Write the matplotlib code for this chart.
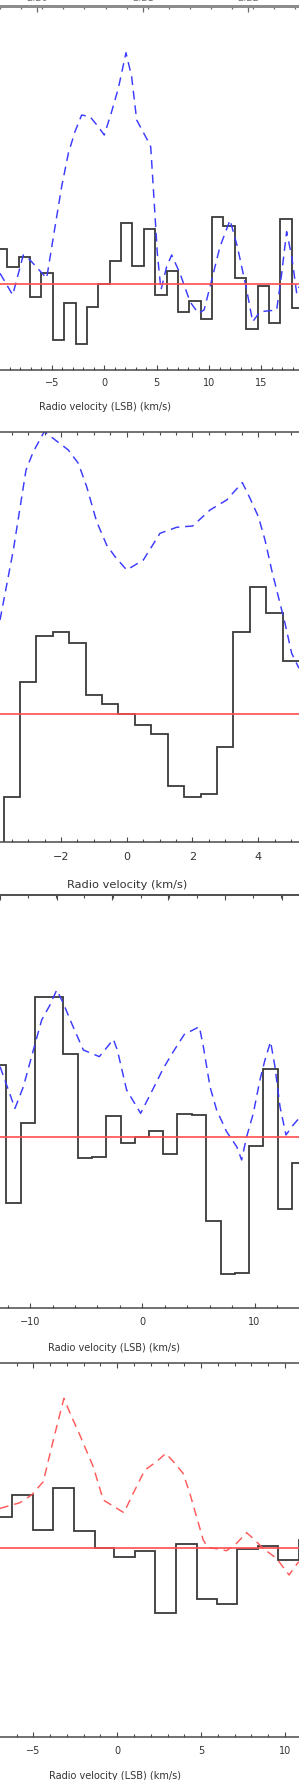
import matplotlib
matplotlib.use("Agg")
import matplotlib.pyplot as plt
from matplotlib.ticker import MultipleLocator, FixedLocator, NullFormatter

plt.rcParams['font.family'] = ['DejaVu Sans']

# ---------------- Panel 1 data ----------------
p1_edges = [-10.34, -9.25, -8.17, -7.08, -6.00, -4.91, -3.83, -2.74, -1.66, -0.57,
            0.52, 1.60, 2.69, 3.77, 4.86, 5.94, 7.03, 8.11, 9.20, 10.28, 11.37,
            12.45, 13.54, 14.62, 15.71, 16.79, 17.88, 18.96]
p1_hist = [34.7, 17.3, 27.3, -12.7, 11.3, -56, -18.7, -60, -23.3, 0, 23.3, 60.7,
           18, 55.3, -11, 13, -28.3, -16.7, -35.3, 67.3, 58, 5.7, -45, -2, -39.3,
           65, -24.3]
p1_line_v = [-9.95, -8.74, -7.73, -7.15, -6.07, -5.50, -4.70, -4.07, -3.43, -2.80,
             -2.16, -1.36, -0.63, 0.0, 0.70, 1.34, 2.07, 2.61, 3.09, 4.20, 4.43,
             4.75, 5.06, 5.41, 5.95, 6.43, 7.22, 8.18, 8.97, 9.52, 10.09, 11.04,
             12.0, 12.70, 13.59, 14.16, 14.86, 16.45, 16.93, 17.40, 17.88, 18.36, 18.58]
p1_line_y = [10.7, -11, 29, 24.7, 12.3, 5.7, 57.3, 97.3, 130.7, 152.3, 169, 167.3,
             158, 149, 172.3, 195.7, 231.3, 207.3, 164, 142.3, 137.3, 84, 30.7, -6,
             17.3, 29, 10.7, -17.7, -29.3, -26, -2.7, 37.3, 64, 37.3, -6, -37.7,
             -27.7, -26, 10.7, 52.3, 27.7, -9.3, -2.7]
p1_ticks = [-10, -5, 0, 5, 10, 15]
p1_top_major = [36.7, 142.7, 247.7]
p1_top_labels = ["2.20", "2.21", "2.22"]

# ---------------- Panel 2 data ----------------
p2_edges = [-4.25, -3.75, -3.25, -2.75, -2.25, -1.75, -1.25, -0.75, -0.25, 0.25,
            0.75, 1.25, 1.75, 2.25, 2.75, 3.25, 3.75, 4.25, 4.75, 5.25]
p2_hist = [-160, -82.3, 32, 78.3, 82.3, 71, 19.3, 10, 0, -10.7, -20, -71.7, -82.3,
           -79.7, -33, 82.3, 127.7, 101.7, 53]
p2_line_v = [-3.857, -3.451, -3.065, -2.842, -2.508, -1.777, -1.473, -1.219, -0.915,
             -0.61, -0.357, 0.0, 0.506, 1.013, 1.521, 2.008, 2.536, 3.043, 3.520,
             3.753, 4.007, 4.21, 4.413, 4.616, 4.819, 5.022, 5.245]
p2_line_y = [94.3, 164.3, 244.3, 262.7, 282.7, 264.3, 251, 227.7, 192.7, 169.3, 157.7,
             144.3, 154.3, 181, 187, 188.3, 204.3, 214.3, 231.7, 216, 197.7, 174.3,
             144.3, 117.7, 91, 61, 46]
p2_ticks = [-4, -2, 0, 2, 4]

# ---------------- Panel 3 data ----------------
p3_edges = [-13.42, -12.15, -10.81, -9.56, -8.29, -7.04, -5.76, -4.51, -3.24, -1.93,
            -0.65, 0.62, 1.87, 3.12, 4.40, 5.67, 6.98, 8.26, 9.47, 10.78, 12.06,
            13.37, 14.64]
p3_hist = [71.7, -66, 14, 139.3, 139.3, 82.7, -21, -20, 20.7, -6, 0, 6, -17.7, 22.3,
           21.7, -84, -137.7, -136.7, -9.3, 67.3, -72.3, -26]
p3_line_v = [-12.68, -11.35, -10.60, -9.71, -8.97, -8.23, -7.63, -7.04, -6.30, -5.26,
             -3.83, -2.58, -2.23, -1.40, -0.15, 0.98, 1.87, 2.76, 3.80, 4.40, 5.08,
             5.44, 6.03, 6.62, 7.51, 8.41, 8.85, 9.30, 9.89, 10.48, 10.93, 11.43,
             11.82, 12.27, 12.80, 13.45, 13.96]
p3_line_y = [70, 28.3, 50, 86.7, 116.7, 131.7, 146.7, 133.3, 113.3, 86.7, 80, 97.3,
             86.7, 46.7, 23.3, 48.3, 68.3, 85, 103.3, 106, 110, 90, 50, 26.7, 5, -10,
             -23.3, 0, 23.3, 56.7, 76.7, 95, 70, 30, 1.7, 11.7, 18.3]
p3_ticks = [-10, 0, 10]
p3_top_major = [0.4, 56.7, 111.7, 168.3, 225.0, 281.7]

# ---------------- Panel 4 data ----------------
p4_edges = [-7.48, -6.26, -5.05, -3.82, -2.58, -1.33, -0.20, 1.05, 2.25, 3.50, 4.73,
            5.96, 7.17, 8.37, 9.60, 10.83, 12.05]
p4_hist = [31, 52.7, 17.7, 60, 17, 0, -9.7, -3.3, -65.7, 3.3, -51.7, -56.7, -1.7, 1.7,
           -12.3, 7.7]
p4_line_v = [-6.99, -5.80, -5.11, -4.41, -3.81, -3.18, -2.72, -2.23, -1.43, -0.83,
             0.40, 0.95, 1.65, 2.34, 2.90, 3.44, 3.93, 4.33, 4.73, 5.13, 5.42, 5.92,
             6.52, 7.11, 7.71, 8.11, 8.70, 9.50, 10.25, 10.59, 10.83]
p4_line_y = [39.3, 45, 52.7, 66, 107.7, 149.3, 131, 112.7, 81, 47.7, 35, 54.3, 77.7,
             86, 94.3, 84.3, 74.3, 54.3, 31, 7.7, 0, -1, -3, 4.3, 15, 9.3, -0.7, -10.7,
             -27.3, -19, -14]
p4_ticks = [-5, 0, 5, 10]

W, H = 299, 1780
fig = plt.figure(figsize=(W / 100, H / 100), dpi=100)

def rect(top_px, bot_px):
    return [0.0, 1 - bot_px / H, 1.0, (bot_px - top_px) / H]

HIST_C = '#3a3a3a'
AX_C = '#4a4a4a'
ZERO_C = '#ff4d4d'


def make_panel(pos, xlim, ylim, edges, hist, lv, ly, line_color, ticks, minor,
               xlabel, label_xy, fs_tick, fs_label, tick_pad):
    ax = fig.add_axes(pos)
    ax.set_xlim(*xlim)
    ax.set_ylim(*ylim)
    ax.stairs(hist, edges, baseline=None, color=HIST_C, lw=1.3)
    ax.plot(lv, ly, color=line_color, lw=1.05, linestyle=(0, (6, 4)))
    ax.axhline(0, color=ZERO_C, lw=1.2)
    for s in ('left', 'right'):
        ax.spines[s].set_visible(False)
    for s in ('top', 'bottom'):
        ax.spines[s].set_color(AX_C)
        ax.spines[s].set_linewidth(1.1)
    ax.set_yticks([])
    ax.xaxis.set_major_locator(FixedLocator(ticks))
    ax.xaxis.set_minor_locator(MultipleLocator(minor))
    ax.set_xticklabels([str(t).replace('-', '\u2212') for t in ticks])
    ax.tick_params(axis='x', which='both', direction='in', colors=AX_C,
                   labelcolor='#333333', width=0.8, labelsize=fs_tick, pad=tick_pad)
    ax.tick_params(axis='x', which='major', length=3.8)
    ax.tick_params(axis='x', which='minor', length=2.2)
    ax.set_xlabel(xlabel, fontsize=fs_label, color='#333333')
    ax.xaxis.set_label_coords(*label_xy)
    return ax

# Panel 1
ax1 = make_panel(rect(6, 370), (-9.952, 18.58), (-86, 278), p1_edges, p1_hist,
                 p1_line_v, p1_line_y, '#3b3bff', p1_ticks, 1,
                 'Radio velocity (LSB) (km/s)', (0.351, -0.088), 7, 7, 6)
ax1.spines['top'].set_color('#8c8c8c')
ax1.spines['top'].set_linewidth(2.0)
t1 = ax1.twiny()
t1.set_xlim(0, 299)
t1.xaxis.set_major_locator(FixedLocator(p1_top_major))
t1.xaxis.set_minor_locator(MultipleLocator(105.5 / 5))
t1.set_xticklabels(p1_top_labels)
t1.tick_params(axis='x', which='both', direction='in', colors='#6a6a6a',
               labelcolor='#777777', width=0.9, labelsize=7, pad=2)
t1.tick_params(axis='x', which='major', length=4.0)
t1.tick_params(axis='x', which='minor', length=2.2)
for s in ('left', 'right', 'bottom'):
    t1.spines[s].set_visible(False)
t1.spines['top'].set_color('#8c8c8c')
t1.spines['top'].set_linewidth(2.0)

# Panel 2
ax2 = make_panel(rect(431.7, 841.7), (-3.857, 5.245), (-127.4, 282.6), p2_edges,
                 p2_hist, p2_line_v, p2_line_y, '#3b3bff', p2_ticks, 0.5,
                 'Radio velocity (km/s)', (0.426, -0.093), 8, 8.2, 7.5)
ax2.tick_params(axis='x', which='both', top=True)

# Panel 3
ax3 = make_panel(rect(895, 1308.3), (-12.685, 13.963), (-171.7, 241.7), p3_edges,
                 p3_hist, p3_line_v, p3_line_y, '#3b3bff', p3_ticks, 2,
                 'Radio velocity (LSB) (km/s)', (0.381, -0.085), 7, 7, 6.5)
t3 = ax3.twiny()
t3.set_xlim(0, 299)
t3.xaxis.set_major_locator(FixedLocator(p3_top_major))
t3.xaxis.set_minor_locator(MultipleLocator(56.25 / 2))
t3.xaxis.set_major_formatter(NullFormatter())
t3.tick_params(axis='x', which='both', direction='in', colors=AX_C, width=0.8)
t3.tick_params(axis='x', which='major', length=3.8)
t3.tick_params(axis='x', which='minor', length=2.2)
for s in ('left', 'right', 'bottom'):
    t3.spines[s].set_visible(False)
t3.spines['top'].set_color(AX_C)
t3.spines['top'].set_linewidth(1.1)

# Panel 4
ax4 = make_panel(rect(1362.7, 1736.7), (-6.99, 10.84), (-189, 185), p4_edges,
                 p4_hist, p4_line_v, p4_line_y, '#ff5a5a', p4_ticks, 1,
                 'Radio velocity (LSB) (km/s)', (0.386, -0.091), 7, 7, 6.5)
ax4.tick_params(axis='x', which='both', top=True)

fig.savefig('out.png', dpi=100)
